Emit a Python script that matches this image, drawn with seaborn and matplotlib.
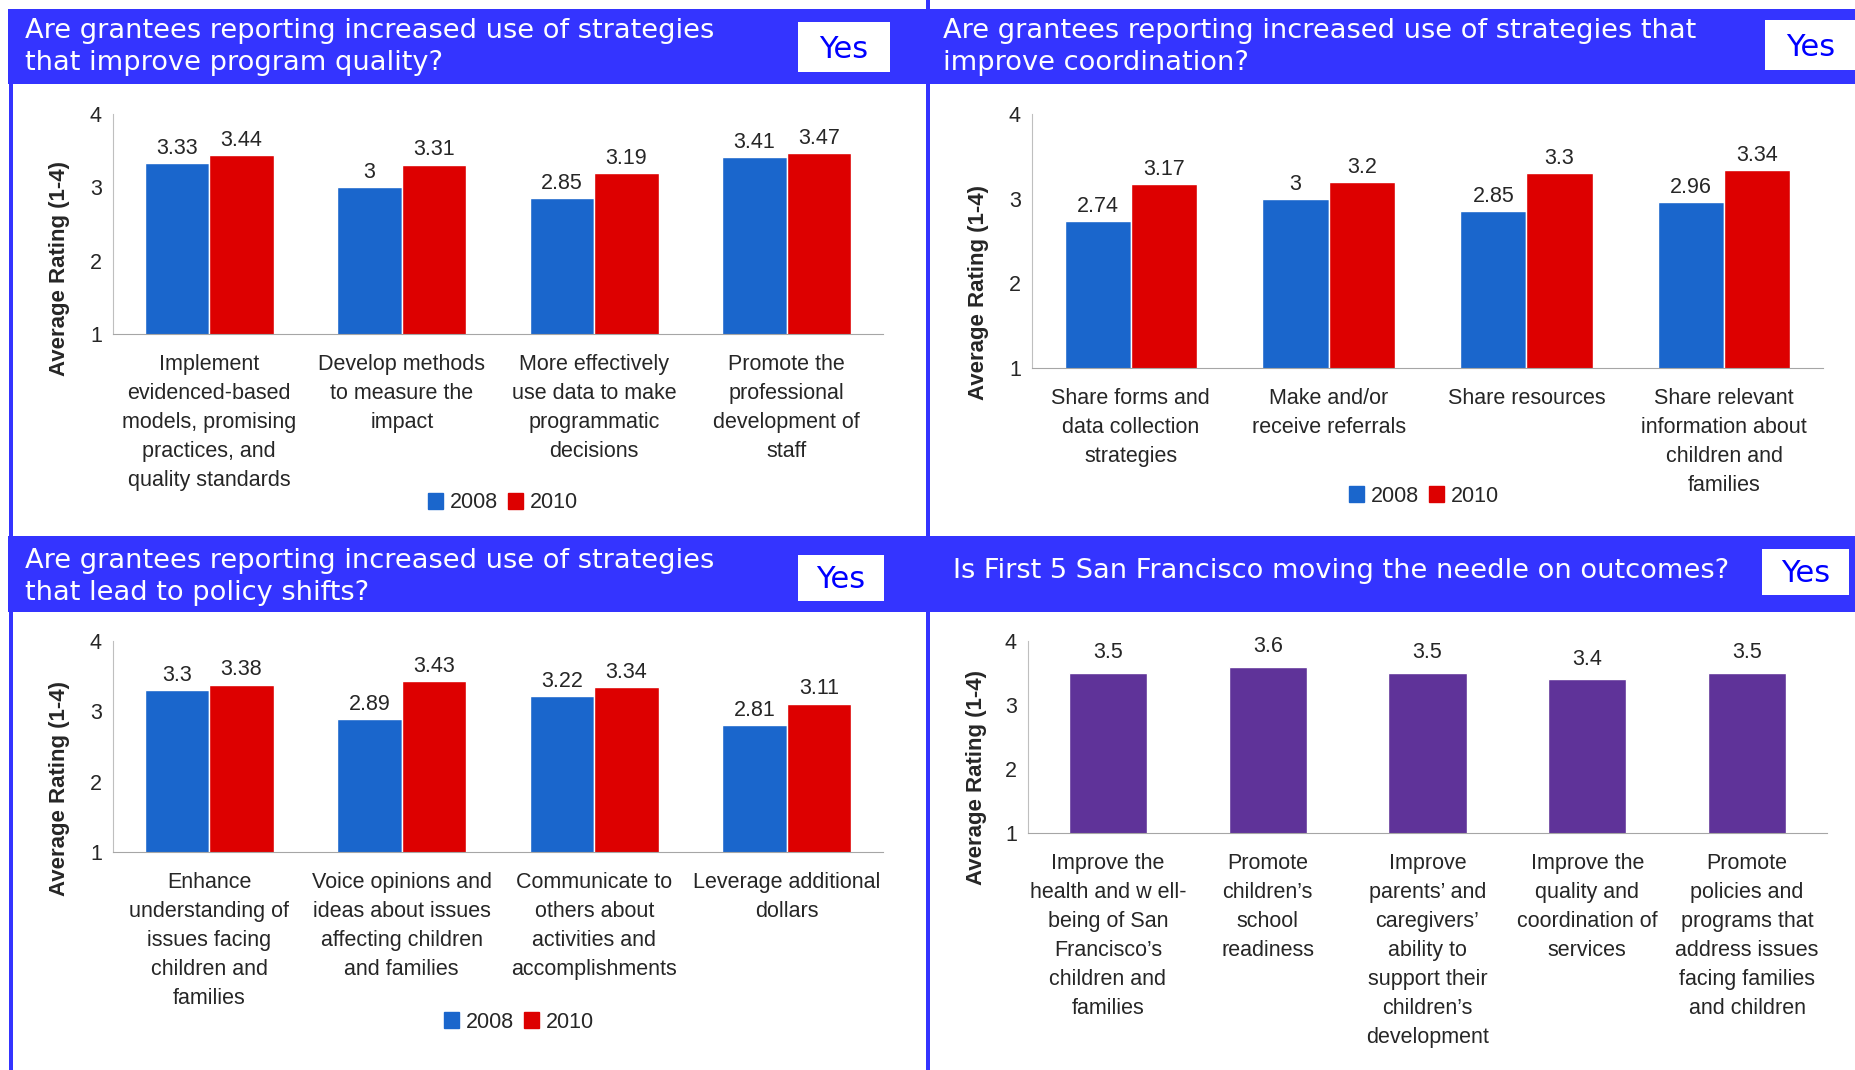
import pandas as pd
import matplotlib.pyplot as plt
import seaborn as sns
from matplotlib.patches import Rectangle

# figure size in pixels, used to place things in figure fractions
W, H = 1856, 1070

# Panel data
quality_cats = ["Implement\nevidenced-based\nmodels, promising\npractices, and\nquality standards",
                "Develop methods\nto measure the\nimpact",
                "More effectively\nuse data to make\nprogrammatic\ndecisions",
                "Promote the\nprofessional\ndevelopment of\nstaff"]
quality_2008 = [3.33, 3.00, 2.85, 3.41]
quality_2010 = [3.44, 3.31, 3.19, 3.47]

coord_cats = ["Share forms and\ndata collection\nstrategies",
              "Make and/or\nreceive referrals",
              "Share resources",
              "Share relevant\ninformation about\nchildren and\nfamilies"]
coord_2008 = [2.74, 3.00, 2.85, 2.96]
coord_2010 = [3.17, 3.20, 3.30, 3.34]

policy_cats = ["Enhance\nunderstanding of\nissues facing\nchildren and\nfamilies",
               "Voice opinions and\nideas about issues\naffecting children\nand families",
               "Communicate to\nothers about\nactivities and\naccomplishments",
               "Leverage additional\ndollars"]
policy_2008 = [3.30, 2.89, 3.22, 2.81]
policy_2010 = [3.38, 3.43, 3.34, 3.11]

outcome_cats = ["Improve the\nhealth and w ell-\nbeing of San\nFrancisco\u2019s\nchildren and\nfamilies",
                "Promote\nchildren\u2019s\nschool\nreadiness",
                "Improve\nparents\u2019 and\ncaregivers\u2019\nability to\nsupport their\nchildren\u2019s\ndevelopment",
                "Improve the\nquality and\ncoordination of\nservices",
                "Promote\npolicies and\nprograms that\naddress issues\nfacing families\nand children"]
outcome_vals = [3.5, 3.6, 3.5, 3.4, 3.5]

years = ["2008", "2010"]
titles = ["Are grantees reporting increased use of strategies\nthat improve program quality?",
          "Are grantees reporting increased use of strategies that\nimprove coordination?",
          "Are grantees reporting increased use of strategies\nthat lead to policy shifts?",
          "Is First 5 San Francisco moving the needle on outcomes?"]

BLUE = "#1A66CC"
RED = "#DD0000"
PURPLE = "#5F3399"
HEADER = "#3434FF"
FS = 15.5  # chart text size

sns.set_style("white")
plt.rcParams['font.family'] = ['Liberation Sans', 'DejaVu Sans']

fig = plt.figure(figsize=(W / 100, H / 100), dpi=100)


def fx(px):
    return px / W


def fy(py):
    return 1 - py / H


def rect(x0, y0, x1, y1, color, z=0):
    fig.patches.append(Rectangle((fx(x0), fy(y1)), fx(x1) - fx(x0), (y1 - y0) / H,
                                 transform=fig.transFigure, color=color, zorder=z, lw=0))


# blue header bands and vertical divider lines
rect(8, 9, W, 84, HEADER)
rect(8, 536, W, 612, HEADER)
rect(9, 84, 13, H, HEADER)
rect(926, 0, 930, H, HEADER)

# Yes boxes
yes_boxes = [(798, 22, 890, 72), (1765, 20, W, 70), (798, 555, 884, 601), (1762, 549, 1849, 595)]
for x0, y0, x1, y1 in yes_boxes:
    rect(x0, y0, x1, y1, "white", z=1)
    fig.text(fx((x0 + x1) / 2), fy((y0 + y1) / 2 + 2), "Yes", color="#0000FF", fontsize=22,
             ha="center", va="center", family="DejaVu Sans", zorder=2)

# titles
title_pos = [(25, 47), (943, 47), (25, 577), (953, 571)]
for (tx, ty), t in zip(title_pos, titles):
    fig.text(fx(tx), fy(ty), t, color="white", fontsize=19.6, ha="left", va="center",
             family="DejaVu Sans", linespacing=1.27)


def style_axis(ax, ylab_xy):
    ax.set_ylim(1, 4)
    ax.set_yticks([1, 2, 3, 4])
    sns.despine(ax=ax)
    ax.spines['left'].set_color('#BFBFBF')
    ax.spines['bottom'].set_color('#A6A6A6')
    ax.tick_params(axis='y', length=4, color='#BFBFBF', labelsize=FS, pad=4)
    ax.tick_params(axis='x', length=0, labelsize=FS, pad=14.5)
    for lab in ax.get_xticklabels():
        lab.set_linespacing(1.5)
    ax.set_xlabel("")
    ax.set_ylabel("Average Rating (1-4)", fontsize=16, fontweight="bold")
    ax.yaxis.set_label_coords(*ylab_xy)


def grouped_panel(rect_px, cats, v08, v10, ylab_xy, legend_px):
    x0, y0, x1, y1 = rect_px
    ax = fig.add_axes([fx(x0), fy(y1), (x1 - x0) / W, (y1 - y0) / H])
    df = pd.DataFrame({"cat": cats * 2,
                       "val": v08 + v10,
                       "year": [years[0]] * len(cats) + [years[1]] * len(cats)})
    sns.barplot(data=df, x="cat", y="val", hue="year", palette=[BLUE, RED],
                width=0.67, saturation=1, ax=ax, legend=False, errorbar=None)
    for c in ax.containers:
        ax.bar_label(c, fmt="{:g}", fontsize=FS, padding=3)
    style_axis(ax, ylab_xy)
    handles = [Rectangle((0, 0), 1, 1, color=BLUE), Rectangle((0, 0), 1, 1, color=RED)]
    ax.legend(handles, years, loc="center", bbox_to_anchor=(fx(legend_px[0]), fy(legend_px[1])),
              bbox_transform=fig.transFigure, ncol=2, frameon=False, fontsize=FS,
              handlelength=0.7, handleheight=0.7, handletextpad=0.3, columnspacing=0.5)
    return ax


grouped_panel((113, 114, 883, 334), quality_cats, quality_2008, quality_2010, (-0.056, 0.30), (503, 503))
grouped_panel((1032, 114, 1823, 368), coord_cats, coord_2008, coord_2010, (-0.054, 0.297), (1424, 496))
grouped_panel((113, 641, 883, 852), policy_cats, policy_2008, policy_2010, (-0.056, 0.303), (519, 1022))

# outcomes panel
ax4 = fig.add_axes([fx(1028), fy(833), (1827 - 1028) / W, (833 - 641) / H])
sns.barplot(x=outcome_cats, y=outcome_vals, color=PURPLE, width=0.49, saturation=1,
            ax=ax4, errorbar=None)
ax4.bar_label(ax4.containers[0], fmt="{:g}", fontsize=FS, padding=7)
style_axis(ax4, (-0.051, 0.29))

fig.savefig("out.png", dpi=100)
